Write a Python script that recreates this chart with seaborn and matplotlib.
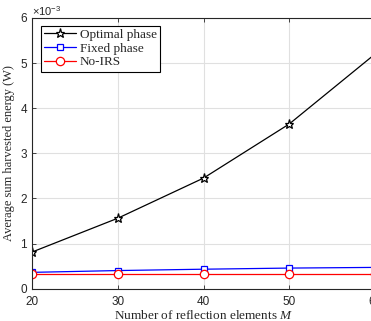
import pandas as pd
import matplotlib
matplotlib.use("Agg")
import matplotlib.pyplot as plt
import seaborn as sns

# data (energy in units of 1e-3 W)
elements = [20, 30, 40, 50, 60]
optimal_phase = [0.81, 1.56, 2.45, 3.65, 5.20]
fixed_phase = [0.36, 0.40, 0.43, 0.455, 0.47]
no_irs = [0.32, 0.32, 0.32, 0.32, 0.32]

sns.set_style("ticks")
plt.rcParams["font.family"] = ["Liberation Sans", "DejaVu Sans"]
plt.rcParams["mathtext.fontset"] = "custom"
plt.rcParams["mathtext.it"] = "Liberation Serif:italic"
plt.rcParams["mathtext.rm"] = "Liberation Sans"

fig = plt.figure(figsize=(3.71, 3.21), dpi=100)
ax = fig.add_axes([32 / 371, 1 - 288.6 / 321, 343 / 371, 270.6 / 321])

series = [
    ("Optimal phase", optimal_phase, "black", "*", 6.5),
    ("Fixed phase", fixed_phase, "blue", "s", 5),
    ("No-IRS", no_irs, "red", "o", 6),
]
for name, vals, col, mk, ms in series:
    sns.lineplot(x=elements, y=vals, ax=ax, color=col, marker=mk, markersize=ms,
                 markerfacecolor="white", markeredgecolor=col, markeredgewidth=0.9,
                 linewidth=0.9, label=name)

ax.set_xlim(20, 60)
ax.set_ylim(0, 6)
ax.set_xticks(elements)
ax.set_yticks(range(0, 7))
ax.grid(True, color="#e0e0e0", linewidth=0.8)
ax.set_axisbelow(True)
for s in ax.spines.values():
    s.set_color("#262626")
    s.set_linewidth(0.8)
ax.tick_params(direction="in", length=3, width=0.6, labelsize=8.5, colors="#262626",
               top=True, right=True)
ax.tick_params(axis="x", pad=5)

ax.set_xlabel(r"Number of reflection elements $M$", family="Liberation Serif",
              fontsize=9.5, labelpad=1)
ax.set_ylabel("Average sum harvested energy (W)", family="Liberation Serif",
              fontsize=9, labelpad=4)
fig.text(32 / 371, 1 - 11 / 321, r"$\times10^{-3}$", fontsize=8, color="#262626",
         va="center", ha="left")

leg = ax.legend(loc="upper left", bbox_to_anchor=(0.026, 0.972), fancybox=False,
                framealpha=1, edgecolor="black", borderpad=0.25, labelspacing=0.1,
                handlelength=2.4, handletextpad=0.3, borderaxespad=0,
                prop={"family": "Liberation Serif", "size": 9.5})
leg.get_frame().set_linewidth(0.8)

fig.savefig("out.png", dpi=100)
